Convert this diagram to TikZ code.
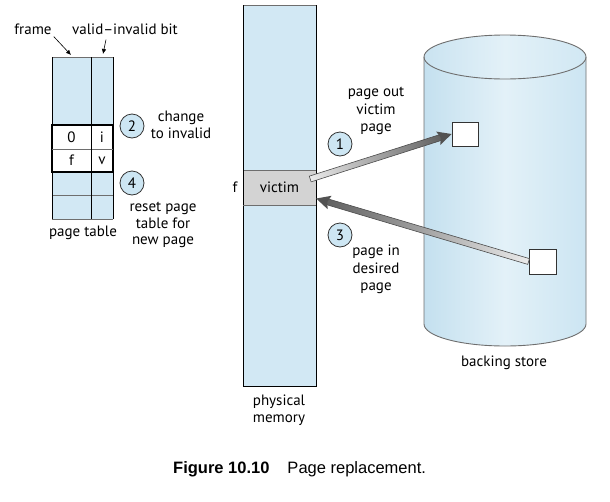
\documentclass[tikz,border=0pt]{standalone}
\usepackage{fontspec}
\setmainfont{PT Sans}
\newfontfamily\capfont{Liberation Sans}
\usetikzlibrary{calc,arrows.meta}

\definecolor{memblue}{HTML}{D2E8F4}
\definecolor{circblue}{HTML}{CDE6F3}
\definecolor{cylleft}{HTML}{C4E0EF}
\definecolor{cylmid}{HTML}{E3F1F8}
\definecolor{cylright}{HTML}{CCE5F2}
\definecolor{victimgray}{HTML}{D3D3D3}
\definecolor{edgegray}{HTML}{6E6E6E}

% thick shaded transfer arrow, light at the tail and dark at the head
\newcommand\pagearrow[2]{%
  \path let \p1=($(#2)-(#1)$), \n1={atan2(\y1,\x1)}, \n2={veclen(\x1,\y1)} in
    \pgfextra{\xdef\arrang{\n1}\xdef\arrlen{\n2}};
  \begin{scope}[transform canvas={shift={(#1)},rotate=\arrang}]
    \shade[left color=white!92!black, right color=black!62,
           draw=black!70, line width=0.6pt]
      (0,-3) rectangle ({\arrlen-11},3);
    \fill[black!68] ({\arrlen-14},-7) -- (\arrlen,0) -- ({\arrlen-14},7)
      -- ({\arrlen-11.5},0) -- cycle;
  \end{scope}}

\begin{document}
\begin{tikzpicture}[x=1pt,y=-1pt,
  font=\fontsize{15}{16.5}\selectfont,
  label/.style={inner sep=0pt, align=center},
  stepmark/.style={circle, minimum size=24pt, inner sep=0pt,
    fill=circblue, draw=black!80, line width=0.8pt},
  cell/.style={inner sep=0pt},
  ptr/.style={line width=0.6pt, -{Latex[length=5pt,width=4.5pt]}},
  slot/.style={rectangle, inner sep=0pt, minimum width=26pt,
    minimum height=24pt, fill=white, draw=black!80, line width=0.8pt}]

\useasboundingbox (0,0) rectangle (610,501);

% ---------------- page table ----------------
\fill[memblue] (52,57) rectangle (113,219);
\draw[edgegray, line width=0.8pt] (52,195) -- (113,195);
\draw[edgegray, line width=0.8pt] (52,57) -- (113,57);
\draw[edgegray, line width=0.8pt] (52,219) -- (113,219);
\draw[black, line width=0.8pt] (52,57) -- (52,219) (113,57) -- (113,219);
\fill[white] (52,125) rectangle (113,172);
\draw[black, line width=1.3pt] (52,125) rectangle (113,172);
\draw[edgegray, line width=0.8pt] (52,149) -- (113,149);
\draw[black, line width=0.8pt] (91,57) -- (91,219);

\node[cell] (c0) at (71.5,137) {0};
\node[cell] (ci) at (102,137) {i};
\node[cell] (cf) at (71.5,160.5) {f};
\node[cell] (cv) at (102,160.5) {v};

\node[label] (frame) at (33,29) {frame};
\node[label] (valid) at (125,29) {valid–invalid bit};
\coordinate (frametip) at (71,55);
\coordinate (validtip) at (103,54);
\draw[ptr] ($(frame.south east)+(2,2)$) -- (frametip);
\draw[ptr] ($(valid.south west)+(34,5)$) -- (validtip);

\node[label] (ptlabel) at (83,233) {page table};

\node[stepmark] (s2) at (132,126) {2};
\node[label] (t2) at (181,125) {change\\to invalid};
\node[stepmark] (s4) at (132,183) {4};
\node[label] (t4) at (163,225) {reset page\\table for\\new page};

% ---------------- physical memory ----------------
\fill[memblue] (243,5) rectangle (316,386);
\draw[edgegray, line width=1pt] (243,5) -- (316,5);
\draw[black, line width=0.8pt] (243,5) -- (243,386) -- (316,386) -- (316,5);
\fill[victimgray] (243,170) rectangle (316,205);
\draw[edgegray, line width=0.9pt] (243,170) -- (316,170) (243,205) -- (316,205);
\draw[black, line width=0.8pt] (243,170) -- (243,205) (316,170) -- (316,205);
\node[cell, minimum width=73pt, minimum height=35pt] (victim) at (279.5,187.5) {victim};
\node[cell] (flabel) at (235,187) {f};
\node[label] (pmlabel) at (279,410) {physical\\memory};

% ---------------- backing store ----------------
\shade[left color=cylleft, right color=cylright, middle color=cylmid]
  (424,57) -- (424,324) arc[start angle=180, end angle=0, x radius=81, y radius=22]
  -- (586,57) arc[start angle=0, end angle=180, x radius=81, y radius=22] -- cycle;
\shade[left color=cylleft!90!white, right color=cylright!90!white, middle color=cylmid]
  (505,57) ellipse[x radius=81, y radius=22];
\draw[edgegray, line width=0.9pt]
  (424,57) -- (424,324) arc[start angle=180, end angle=0, x radius=81, y radius=22]
  -- (586,57);
\draw[edgegray, line width=0.9pt] (505,57) ellipse[x radius=81, y radius=22];
\node[label] (bslabel) at (504,363) {backing store};

\node[slot] (sqA) at (465,134) {};
\node[slot, minimum width=27pt, minimum height=25pt] (sqB) at (542.5,261.5) {};

% ---------------- transfers ----------------
\coordinate (outtail) at ($(victim.east)+(-6,-8.5)$);
\coordinate (intip) at ($(victim.east)+(0,11)$);
\pagearrow{outtail}{sqA.west}
\pagearrow{sqB.west}{intip}

\node[stepmark] (s1) at (340,144) {1};
\node[label, font=\fontsize{15}{17.5}\selectfont] (t1) at (376,111)
  {page out\\victim\\page};
\node[stepmark] (s3) at (340,235) {3};
\node[label, font=\fontsize{15}{17.5}\selectfont] (t3) at (376,269.5)
  {page in\\desired\\page};

% ---------------- caption ----------------
\node[label, anchor=west, font=\capfont\fontsize{16.5}{19}\selectfont] (caption) at (173,469)
  {\textbf{Figure 10.10}\hspace{18pt}Page replacement.};
\end{tikzpicture}
\end{document}
